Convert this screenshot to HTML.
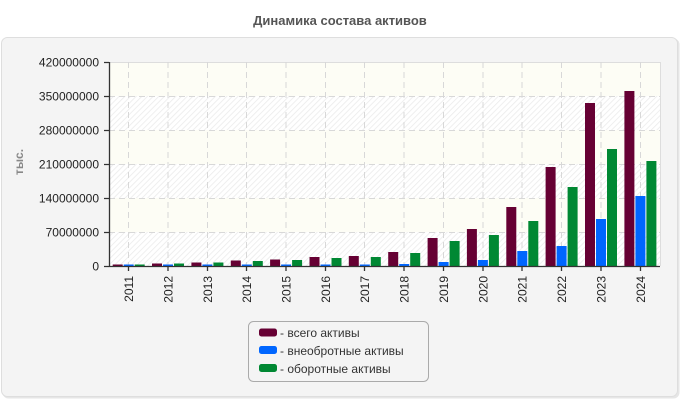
<!DOCTYPE html>
<html><head><meta charset="utf-8">
<style>
html,body{margin:0;padding:0;background:#fff;}
svg{display:block;font-family:"Liberation Sans",Arial,sans-serif;}
</style></head>
<body>
<svg width="680" height="400" viewBox="0 0 680 400" xmlns="http://www.w3.org/2000/svg">
<defs>
<pattern id="h" patternUnits="userSpaceOnUse" width="4" height="4" patternTransform="rotate(45)">
<rect width="4" height="4" fill="#ffffff"/>
<line x1="0" y1="0" x2="0" y2="4" stroke="#ebebeb" stroke-width="1.6"/>
</pattern>
</defs>
<text x="340" y="25" text-anchor="middle" font-size="13" font-weight="bold" fill="#555">Динамика состава активов</text>
<rect x="2.5" y="38.5" width="677" height="360" rx="6" fill="#e6e6e6"/>
<rect x="1.5" y="37.5" width="676" height="359" rx="6" fill="#f4f4f4" stroke="#dedede"/>
<!-- plot area -->
<rect x="109" y="62" width="551" height="204" fill="#fdfdf5"/>
<rect x="109" y="96" width="551" height="34" fill="url(#h)"/>
<rect x="109" y="164" width="551" height="34" fill="url(#h)"/>
<rect x="109" y="232" width="551" height="34" fill="url(#h)"/>
<path d="M109 62.5H660.5V266" fill="none" stroke="#ddd" stroke-width="1"/>
<g stroke="#d8d8d8" stroke-width="1" stroke-dasharray="6,4" fill="none">
<path d="M109 96.5H660M109 130.5H660M109 164.5H660M109 198.5H660M109 232.5H660"/>
<path d="M128.5 62V266M168 62V266M207.5 62V266M246.5 62V266M286 62V266M325.5 62V266M364.5 62V266M404 62V266M443.5 62V266M483 62V266M522 62V266M561.5 62V266M601 62V266M640.5 62V266"/>
</g>
<!-- bars -->
<g id="bars"></g>
<g fill="#660033">
<rect x="112.7" y="264.5" width="10" height="1.5"/>
<rect x="152" y="263.5" width="10" height="2.5"/>
<rect x="191.4" y="262.5" width="10" height="3.5"/>
<rect x="230.8" y="260.5" width="10" height="5.5"/>
<rect x="270.1" y="259.5" width="10" height="6.5"/>
<rect x="309.5" y="257" width="10" height="9"/>
<rect x="348.8" y="256" width="10" height="10"/>
<rect x="388.2" y="252" width="10" height="14"/>
<rect x="427.6" y="238" width="10" height="28"/>
<rect x="466.9" y="229" width="10" height="37"/>
<rect x="506.3" y="207" width="10" height="59"/>
<rect x="545.6" y="167" width="10" height="99"/>
<rect x="585" y="103" width="10" height="163"/>
<rect x="624.4" y="91" width="10" height="175"/>
</g>
<g fill="#0066ff">
<rect x="123.7" y="264.5" width="10" height="1.5"/>
<rect x="163" y="264.5" width="10" height="1.5"/>
<rect x="202.4" y="264.5" width="10" height="1.5"/>
<rect x="241.8" y="264.5" width="10" height="1.5"/>
<rect x="281.1" y="264.5" width="10" height="1.5"/>
<rect x="320.5" y="264.5" width="10" height="1.5"/>
<rect x="359.8" y="264.5" width="10" height="1.5"/>
<rect x="399.2" y="264" width="10" height="2"/>
<rect x="438.6" y="262" width="10" height="4"/>
<rect x="477.9" y="260" width="10" height="6"/>
<rect x="517.3" y="251" width="10" height="15"/>
<rect x="556.6" y="246" width="10" height="20"/>
<rect x="596" y="219" width="10" height="47"/>
<rect x="635.4" y="196" width="10" height="70"/>
</g>
<g fill="#008833">
<rect x="134.7" y="264.5" width="10" height="1.5"/>
<rect x="174" y="263.5" width="10" height="2.5"/>
<rect x="213.4" y="262.5" width="10" height="3.5"/>
<rect x="252.8" y="261" width="10" height="5"/>
<rect x="292.1" y="260" width="10" height="6"/>
<rect x="331.5" y="258" width="10" height="8"/>
<rect x="370.8" y="257" width="10" height="9"/>
<rect x="410.2" y="253" width="10" height="13"/>
<rect x="449.6" y="241" width="10" height="25"/>
<rect x="488.9" y="235" width="10" height="31"/>
<rect x="528.3" y="221" width="10" height="45"/>
<rect x="567.6" y="187" width="10" height="79"/>
<rect x="607" y="149" width="10" height="117"/>
<rect x="646.4" y="161" width="10" height="105"/>
</g>
<!-- axes -->
<g stroke="#333" stroke-width="1.3" fill="none">
<path d="M109.5 62V266.5H660"/>
<path d="M104 62.5H109M104 96.5H109M104 130.5H109M104 164.5H109M104 198.5H109M104 232.5H109M104 266.5H109"/>
<path d="M128.5 266V271M168 266V271M207.5 266V271M246.5 266V271M286 266V271M325.5 266V271M364.5 266V271M404 266V271M443.5 266V271M483 266V271M522 266V271M561.5 266V271M601 266V271M640.5 266V271"/>
</g>
<g font-size="12" fill="#222" text-anchor="end">
<text x="99" y="66.5">420000000</text>
<text x="99" y="100.5">350000000</text>
<text x="99" y="134.5">280000000</text>
<text x="99" y="168.5">210000000</text>
<text x="99" y="202.5">140000000</text>
<text x="99" y="236.5">70000000</text>
<text x="99" y="270.5">0</text>
</g>
<g font-size="12" fill="#222" text-anchor="end">
<text transform="translate(133,276) rotate(-90)">2011</text>
<text transform="translate(172.5,276) rotate(-90)">2012</text>
<text transform="translate(212,276) rotate(-90)">2013</text>
<text transform="translate(251,276) rotate(-90)">2014</text>
<text transform="translate(290.5,276) rotate(-90)">2015</text>
<text transform="translate(330,276) rotate(-90)">2016</text>
<text transform="translate(369,276) rotate(-90)">2017</text>
<text transform="translate(408.5,276) rotate(-90)">2018</text>
<text transform="translate(448,276) rotate(-90)">2019</text>
<text transform="translate(487.5,276) rotate(-90)">2020</text>
<text transform="translate(526.5,276) rotate(-90)">2021</text>
<text transform="translate(566,276) rotate(-90)">2022</text>
<text transform="translate(605.5,276) rotate(-90)">2023</text>
<text transform="translate(645,276) rotate(-90)">2024</text>
</g>
<text transform="translate(23,162) rotate(-90)" text-anchor="middle" font-size="12" font-weight="bold" fill="#888">тыс.</text>
<!-- legend -->
<rect x="248.5" y="321.5" width="180" height="60" rx="5" fill="#f4f4f4" stroke="#aaa"/>
<rect x="259" y="328.5" width="18" height="8" rx="2.5" fill="#660033"/>
<rect x="259" y="346" width="18" height="8" rx="2.5" fill="#0066ff"/>
<rect x="259" y="364" width="18" height="8" rx="2.5" fill="#008833"/>
<g font-size="12" fill="#333">
<text x="280" y="337">- всего активы</text>
<text x="280" y="355">- внеобротные активы</text>
<text x="280" y="373">- оборотные активы</text>
</g>
</svg>
</body></html>
